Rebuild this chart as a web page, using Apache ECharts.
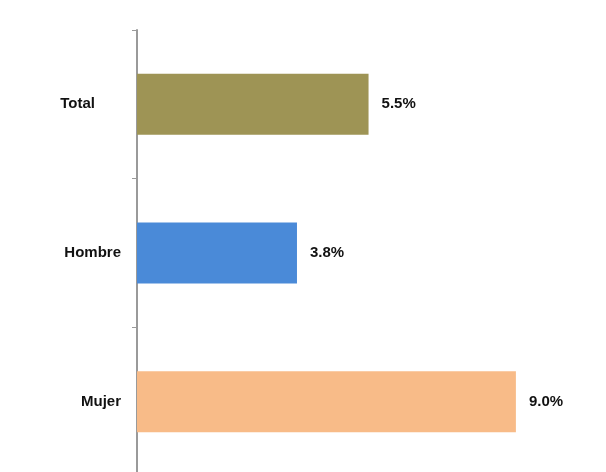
<!DOCTYPE html>
<html>
<head>
<meta charset="utf-8">
<script src="https://cdn.jsdelivr.net/npm/echarts@6/dist/echarts.min.js"></script>
<style>html,body{margin:0;padding:0;background:#fff;overflow:hidden}#c{width:606px;height:476px}</style>
</head>
<body>
<div id="c"></div>
<script>
const categories = ['Total', 'Hombre', 'Mujer'];
const values = [5.5, 3.8, 9.0];
const barColors = ['#9e9455', '#4a8ad8', '#f8bb88'];

const FONT = '"Liberation Sans", Arial, sans-serif';
const FS = 15;
const chart = echarts.init(document.getElementById('c'), null, {renderer: 'canvas'});
chart.setOption({
  backgroundColor: '#fff',
  animation: false,
  grid: {left: 137, top: 30, width: 421, bottom: 0, containLabel: false},
  xAxis: {
    type: 'value', min: 0, max: 10,
    show: false
  },
  yAxis: {
    type: 'category', data: categories, inverse: true,
    axisLine: {show: true, lineStyle: {color: '#9a9a9a', width: 2}},
    axisTick: {show: true, length: 5, lineStyle: {color: '#9a9a9a', width: 1}},
    axisLabel: {
      margin: 16,
      fontFamily: FONT, fontWeight: 'bold', fontSize: FS, color: '#111',
      formatter: function (v) { return v === 'Total' ? '{t|' + v + '}' : v; },
      rich: {t: {fontFamily: FONT, fontWeight: 'bold', fontSize: FS, color: '#111', padding: [0, 26, 0, 0]}}
    },
    splitLine: {show: false}
  },
  series: [{
    type: 'bar',
    barWidth: 61,
    data: values.map((v, i) => ({value: v, itemStyle: {color: barColors[i]}})),
    label: {
      show: true, position: 'right', distance: 13,
      fontFamily: FONT, fontWeight: 'bold', fontSize: FS, color: '#111',
      formatter: p => p.value.toFixed(1) + '%'
    }
  }]
});
</script>
</body>
</html>
